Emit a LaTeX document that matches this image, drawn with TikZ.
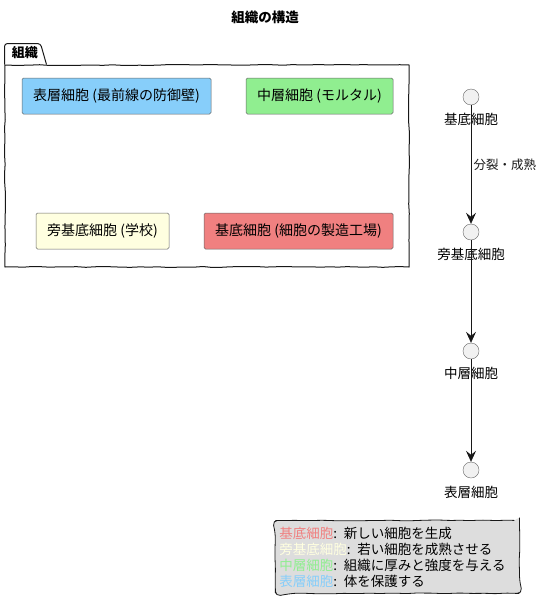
\documentclass[tikz,border=0pt]{standalone}
\usepackage{fontspec}
\setmainfont{Noto Sans CJK JP}
\usepackage{xcolor}
\definecolor{tsSurface}{HTML}{87CEFA}
\definecolor{tsMiddle}{HTML}{90EE90}
\definecolor{tsPara}{HTML}{FFFFE0}
\definecolor{tsBasal}{HTML}{F08080}
\definecolor{tsNote}{HTML}{DDDDDD}
\definecolor{tsCircle}{HTML}{F1F1F1}
\definecolor{tsLine}{HTML}{181818}
\definecolor{tsGray}{HTML}{666666}
\usepackage{tikz}
\usetikzlibrary{arrows.meta,positioning,decorations.pathmorphing}

\begin{document}
\begin{tikzpicture}[
    x=1pt, y=-1pt,
    sketch/.style={decorate, decoration={random steps, segment length=9pt, amplitude=0.5pt}},
    pkg/.style={draw=tsLine, line width=1pt, sketch, minimum width=404pt, minimum height=202pt, inner sep=0pt},
    tabline/.style={draw=tsLine, line width=1pt, rounded corners=3pt},
    tablbl/.style={font=\fontsize{13}{15}\selectfont\bfseries, inner sep=1pt},
    box/.style={draw=tsGray, line width=0.5pt, rounded corners=1.5pt, minimum height=36pt, inner sep=0pt, font=\fontsize{14}{16}\selectfont},
    cell/.style={circle, draw=tsGray, fill=tsCircle, minimum size=16pt, inner sep=0pt, label={[font=\fontsize{13.5}{15}\selectfont, label distance=4pt]below:#1}},
    arr/.style={-{Stealth[length=11pt,width=10pt,inset=4pt]}, tsLine, line width=0.7pt},
    note/.style={draw=tsLine, line width=0.8pt, sketch, rounded corners=5pt, fill=tsNote, align=left, anchor=north west, text width=236pt, minimum height=73pt, inner xsep=4pt, inner ysep=3pt, font=\fontsize{13.5}{16}\selectfont}
  ]
    \useasboundingbox (0,0) rectangle (544,613);
    \node[font=\fontsize{13.5}{15}\selectfont\bfseries] (title) at (265,17) {組織の構造};
    % package
    \node[pkg] (tissue) at (207,166) {};
    \draw[tabline] (tissue.north west) -- ++(0,-21) -- ++(36,0) -- ++(6,21);
    \node[tablbl] (tissuetab) at (25,53) {組織};
    \node[box, fill=tsSurface, minimum width=189pt] (surface) at (116.5,96) {表層細胞 (最前線の防御壁)};
    \node[box, fill=tsMiddle, minimum width=147pt] (middle) at (319.5,96) {中層細胞 (モルタル)};
    \node[box, fill=tsPara, minimum width=133pt] (para) at (102.5,231) {旁基底細胞 (学校)};
    \node[box, fill=tsBasal, minimum width=189pt] (basal) at (298.5,231) {基底細胞 (細胞の製造工場)};
    % differentiation
    \node[cell=基底細胞] (c1) at (471,97) {};
    \node[cell=旁基底細胞] (c2) at (471,232) {};
    \node[cell=中層細胞] (c3) at (471,351) {};
    \node[cell=表層細胞] (c4) at (471,470) {};
    \draw[arr] (c1) -- node[right, font=\fontsize{12.5}{14}\selectfont, xshift=-1pt] {分裂・成熟} (c2);
    \draw[arr] (c2) -- (c3);
    \draw[arr] (c3) -- (c4);
    \node[note] (legend) at (275,520) {\textcolor{tsBasal}{基底細胞}: 新しい細胞を生成\\
      \textcolor{tsPara}{旁基底細胞}: 若い細胞を成熟させる\\
      \textcolor{tsMiddle}{中層細胞}: 組織に厚みと強度を与える\\
      \textcolor{tsSurface}{表層細胞}: 体を保護する};
  \end{tikzpicture}
\end{document}
